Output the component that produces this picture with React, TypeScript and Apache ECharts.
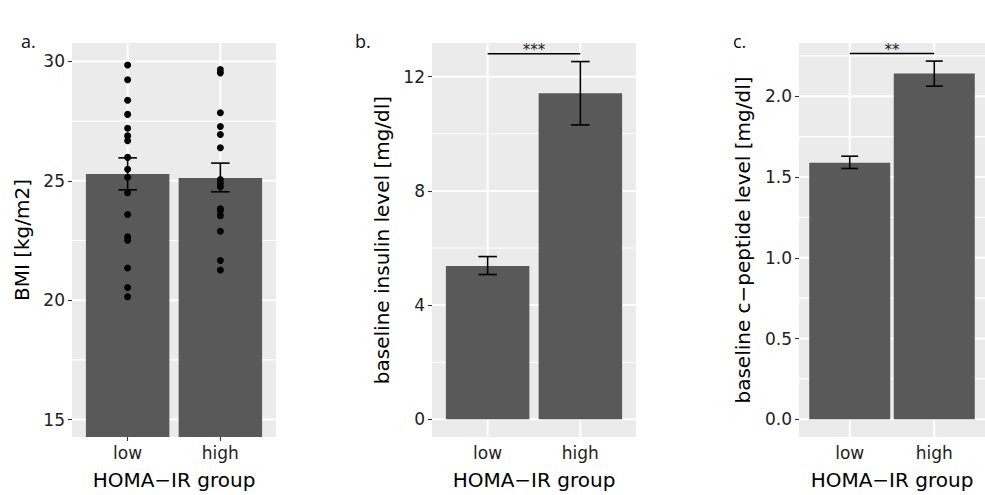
import React, { useEffect, useRef } from "react";
import * as echarts from "echarts";

// ---------- data ----------
const categories = ["low", "high"];
const categoryX = [1, 2];

const bmiMeans = [25.28, 25.12];
const bmiErrLow = [24.62, 24.54];
const bmiErrHigh = [25.96, 25.74];
const bmiLowPoints = [29.85, 29.23, 28.37, 27.78, 27.2, 26.88, 26.68, 25.98, 25.48, 25.15, 24.5, 23.59, 22.65, 22.51, 21.35, 20.53, 20.14];
const bmiHighPoints = [29.66, 29.52, 27.85, 27.27, 26.94, 26.38, 25.05, 24.9, 24.75, 23.83, 23.74, 23.54, 22.89, 21.66, 21.26];

const insulinMeans = [5.37, 11.42];
const insulinErrLow = [5.07, 10.31];
const insulinErrHigh = [5.7, 12.53];

const cpepMeans = [1.588, 2.141];
const cpepErrLow = [1.553, 2.063];
const cpepErrHigh = [1.629, 2.218];

const bmiTicks = [15, 20, 25, 30];
const bmiMinor = [17.5, 22.5, 27.5];
const insulinTicks = [0, 4, 8, 12];
const insulinMinor = [2, 6, 10];
const cpepTicks = [0, 0.5, 1.0, 1.5, 2.0];
const cpepMinor = [0.25, 0.75, 1.25, 1.75, 2.25];

const panelLetters = ["a.", "b.", "c."];
const yTitles = ["BMI [kg/m2]", "baseline insulin level [mg/dl]", "baseline c\u2212peptide level [mg/dl]"];
const xTitle = "HOMA\u2212IR group";
const sigLevels = [null, 12.8, 2.265];
const sigLabels = ["", "***", "**"];

// ---------- layout ----------
const FONT = "DejaVu Sans";
const panels = [
  { left: 72, width: 204, yMin: 14.27, yMax: 30.77, ticks: bmiTicks, minor: bmiMinor, means: bmiMeans, lo: bmiErrLow, hi: bmiErrHigh, gap: 40, dec: 0, letterX: 21 },
  { left: 432, width: 204, yMin: -0.62, yMax: 13.18, ticks: insulinTicks, minor: insulinMinor, means: insulinMeans, lo: insulinErrLow, hi: insulinErrHigh, gap: 40, dec: 0, letterX: 355 },
  { left: 799, width: 198, yMin: -0.11, yMax: 2.33, ticks: cpepTicks, minor: cpepMinor, means: cpepMeans, lo: cpepErrLow, hi: cpepErrHigh, gap: 46, dec: 1, letterX: 733 },
];
const TOP = 43;
const HEIGHT = 399;

export default function App() {
  const ref = useRef<HTMLDivElement>(null);
  useEffect(() => {
    if (!ref.current) return;
    const chart = echarts.init(ref.current, null, { renderer: "svg" });

    const grid: any[] = [];
    const xAxis: any[] = [];
    const yAxis: any[] = [];
    const series: any[] = [];

    panels.forEach((p, i) => {
      grid.push({ left: p.left, top: TOP, width: p.width, height: HEIGHT, show: true, backgroundColor: "#EBEBEB", borderWidth: 0 });
      xAxis.push({
        type: "value", gridIndex: i, min: 0.4, max: 2.6,
        axisLine: { show: false },
        axisTick: { show: true, length: 4, customValues: categoryX, lineStyle: { color: "#333", width: 1.1 } },
        axisLabel: { customValues: categoryX, margin: 7, fontSize: 17, color: "#222", fontFamily: FONT,
          formatter: (v: number) => categories[Math.round(v) - 1] ?? "" },
        splitLine: { show: false },
        name: xTitle, nameLocation: "middle", nameGap: 33,
        nameTextStyle: { fontSize: 20, color: "#000", fontFamily: FONT },
      });
      yAxis.push({
        type: "value", gridIndex: i, min: p.yMin, max: p.yMax,
        axisLine: { show: false },
        axisTick: { show: true, length: 4, customValues: p.ticks, lineStyle: { color: "#333", width: 1.1 } },
        axisLabel: { customValues: p.ticks, margin: 7, fontSize: 17, color: "#222", fontFamily: FONT,
          formatter: (v: number) => v.toFixed(p.dec) },
        splitLine: { show: false },
        name: yTitles[i], nameLocation: "middle", nameRotate: 90, nameGap: p.gap,
        nameTextStyle: { fontSize: 20, color: "#000", fontFamily: FONT },
      });

      // gridlines
      const gl: number[][] = [];
      p.ticks.forEach((t) => gl.push([1, t, 0]));
      p.minor.forEach((t) => gl.push([1, t, 1]));
      categoryX.forEach((c) => gl.push([c, p.ticks[1], 2]));
      series.push({
        type: "custom", xAxisIndex: i, yAxisIndex: i, z: 1, silent: true,
        data: gl,
        renderItem: (params: any, api: any) => {
          const cs = params.coordSys;
          const kind = api.value(2);
          if (kind === 2) {
            const px = api.coord([api.value(0), api.value(1)])[0];
            return { type: "line", shape: { x1: px, y1: cs.y, x2: px, y2: cs.y + cs.height }, style: { stroke: "#FFFFFF", lineWidth: 2 } };
          }
          const py = api.coord([1, api.value(1)])[1];
          return { type: "line", shape: { x1: cs.x, y1: py, x2: cs.x + cs.width, y2: py }, style: { stroke: "#FFFFFF", lineWidth: kind === 0 ? 2 : 1.1 } };
        },
      });

      // bars
      series.push({
        type: "bar", xAxisIndex: i, yAxisIndex: i, z: 2,
        barWidth: (p.width / 2.2) * 0.9,
        itemStyle: { color: "#595959" },
        data: categoryX.map((c, k) => [c, p.means[k]]),
      });

      // points for panel a
      if (i === 0) {
        const pts: number[][] = [];
        bmiLowPoints.forEach((v) => pts.push([1, v]));
        bmiHighPoints.forEach((v) => pts.push([2, v]));
        series.push({
          type: "scatter", xAxisIndex: i, yAxisIndex: i, z: 3,
          symbolSize: 7, itemStyle: { color: "#000", opacity: 1 }, data: pts,
        });
      }

      // error bars
      series.push({
        type: "custom", xAxisIndex: i, yAxisIndex: i, z: 4,
        encode: { x: 0, y: [1, 2] },
        data: categoryX.map((c, k) => [c, p.lo[k], p.hi[k]]),
        renderItem: (params: any, api: any) => {
          const x = api.value(0);
          const lo = api.coord([x, api.value(1)]);
          const hi = api.coord([x, api.value(2)]);
          const l = api.coord([x - 0.1, api.value(2)])[0];
          const r = api.coord([x + 0.1, api.value(2)])[0];
          const st = { stroke: "#000", lineWidth: 1.6 };
          return {
            type: "group",
            children: [
              { type: "line", shape: { x1: lo[0], y1: lo[1], x2: hi[0], y2: hi[1] }, style: st },
              { type: "line", shape: { x1: l, y1: hi[1], x2: r, y2: hi[1] }, style: st },
              { type: "line", shape: { x1: l, y1: lo[1], x2: r, y2: lo[1] }, style: st },
            ],
          };
        },
      });

      // significance bracket
      const lvl = sigLevels[i];
      if (lvl != null) {
        series.push({
          type: "custom", xAxisIndex: i, yAxisIndex: i, z: 4,
          encode: { x: [0, 1], y: 2 },
          data: [[categoryX[0], categoryX[1], lvl]],
          renderItem: (params: any, api: any) => {
            const a = api.coord([api.value(0), api.value(2)]);
            const b = api.coord([api.value(1), api.value(2)]);
            return {
              type: "group",
              children: [
                { type: "line", shape: { x1: a[0], y1: a[1], x2: b[0], y2: b[1] }, style: { stroke: "#000", lineWidth: 1.5 } },
                { type: "text", x: (a[0] + b[0]) / 2, y: a[1] + 4,
                  style: { text: sigLabels[i], fontSize: 15, fontFamily: FONT, fill: "#222", align: "center", verticalAlign: "bottom" } },
              ],
            };
          },
        });
      }
    });

    chart.setOption({
      animation: false,
      textStyle: { fontFamily: FONT },
      grid, xAxis, yAxis, series,
      graphic: panels.map((p, i) => ({
        type: "text", left: p.letterX, top: 32,
        style: { text: panelLetters[i], fontSize: 18, fontFamily: "Open Sans", fill: "#111" },
      })),
    });
    return () => chart.dispose();
  }, []);
  return <div ref={ref} style={{ position: "fixed", left: 0, top: 0, width: 985, height: 495, background: "#fff" }} />;
}
